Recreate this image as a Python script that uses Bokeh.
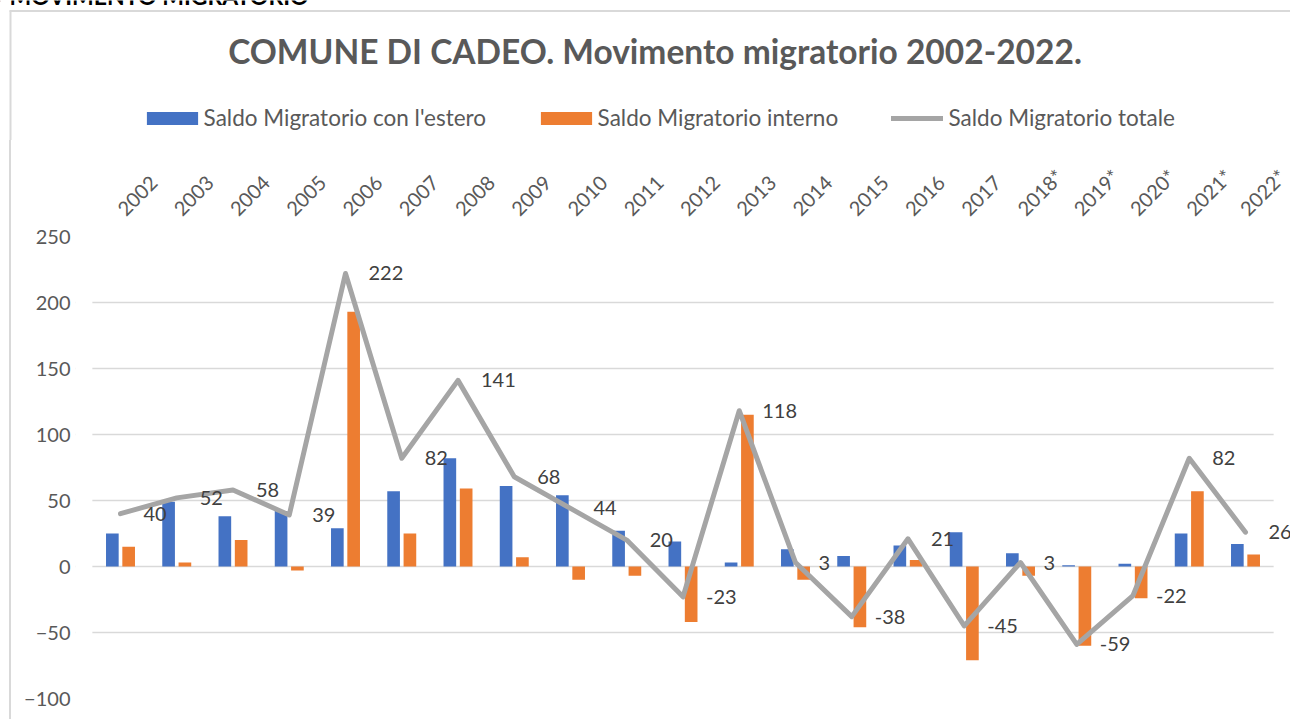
import math
from bokeh.plotting import figure
from bokeh.models import (FactorRange, Range1d, FixedTicker, ColumnDataSource,
                          Legend, LegendItem, Label, LabelSet, BoxAnnotation)
from bokeh.transform import dodge
from bokeh.core.properties import value
from bokeh.embed import file_html
from bokeh.resources import INLINE

# ---- data ----
years = ["2002", "2003", "2004", "2005", "2006", "2007", "2008", "2009", "2010",
         "2011", "2012", "2013", "2014", "2015", "2016", "2017",
         "2018*", "2019*", "2020*", "2021*", "2022*"]
estero = [25, 49, 38, 42, 29, 57, 82, 61, 54, 27, 19, 3, 13, 8, 16, 26, 10, 1, 2, 25, 17]
interno = [15, 3, 20, -3, 193, 25, 59, 7, -10, -7, -42, 115, -10, -46, 5, -71, -7, -60, -24, 57, 9]
totale = [40, 52, 58, 39, 222, 82, 141, 68, 44, 20, -23, 118, 3, -38, 21, -45, 3, -59, -22, 82, 26]
y_ticks = [-100, -50, 0, 50, 100, 150, 200, 250]

page_header = "MOVIMENTO MIGRATORIO"
title_text = "COMUNE DI CADEO. Movimento migratorio 2002-2022."
series_names = ["Saldo Migratorio con l'estero", "Saldo Migratorio interno", "Saldo Migratorio totale"]

BLUE = "#4472C4"
ORANGE = "#ED7D31"
GREY = "#A5A5A5"
TXT = "#595959"
BORDER = "#d9d9d9"
FONT = "Lato"
W = 1290
H_TOP = 140

# ================= header figure (title + legend) =================
hdr = figure(width=W, height=H_TOP, x_range=Range1d(0, W), y_range=Range1d(H_TOP, 0),
             min_border=0, x_axis_location=None, y_axis_location=None,
             toolbar_location=None, output_backend="svg")
hdr.outline_line_color = None
hdr.grid.visible = False
hdr.background_fill_color = "white"
hdr.border_fill_color = "white"

# chart box border (top + left)
hdr.segment(x0=[9, 10], y0=[10.5, 10], x1=[W, 10], y1=[10.5, H_TOP],
            line_color=BORDER, line_width=2)

hdr.add_layout(Label(x=9, y=-5, text=page_header, text_align="left",
                     text_baseline="alphabetic", text_font=FONT, text_font_style="bold",
                     text_font_size="23px", text_color="black"))
hdr.add_layout(Label(x=654.5, y=50.5, text=title_text, text_align="center",
                     text_baseline="alphabetic", text_font=FONT, text_font_style="bold",
                     text_font_size="33.5px", text_color=TXT))

# legend proxies (kept outside the visible area of the header)
h_blue = hdr.vbar(x=[-1000], top=[1], width=1, fill_color=BLUE, line_color=None)
h_orange = hdr.vbar(x=[-1000], top=[1], width=1, fill_color=ORANGE, line_color=None)
h_line = hdr.line(x=[-1000, -999], y=[1, 1], line_color=GREY, line_width=5, line_cap="round")


def mk_legend(name, rend, loc, gw, standoff):
    lg = Legend(items=[LegendItem(label=name, renderers=[rend])], location=loc,
                orientation="horizontal", glyph_width=gw, glyph_height=16,
                label_height=26, label_standoff=standoff, padding=0, margin=0, spacing=0,
                border_line_color=None, background_fill_alpha=0,
                label_text_font=FONT, label_text_font_size="22.5px", label_text_color=TXT)
    hdr.add_layout(lg, "center")


mk_legend(series_names[0], h_blue, (139.6, 9), 64, 0)
mk_legend(series_names[1], h_orange, (533.6, 9), 64, 0)
mk_legend(series_names[2], h_line, (890.5, 9), 52, 6)

# ================= main chart =================
src = ColumnDataSource(dict(year=years, estero=estero, interno=interno,
                            totale=totale, lab=[str(v) for v in totale]))

p = figure(x_range=FactorRange(*years, range_padding=0.3, range_padding_units="absolute"),
           y_range=Range1d(-100, 250),
           width=W, height=719 - H_TOP, output_backend="svg", toolbar_location=None,
           x_axis_location="above",
           min_border_left=75, min_border_right=0, min_border_top=96, min_border_bottom=21)
p.styles = {"background": "linear-gradient(to right, #ffffff 0px, #ffffff 9px, "
                          "#d9d9d9 9px, #d9d9d9 11px, #ffffff 11px)"}
p.outline_line_color = None
p.background_fill_color = "white"
p.border_fill_color = None

# grid
p.xgrid.grid_line_color = None
p.ygrid.grid_line_color = BORDER
p.ygrid.grid_line_width = 1.5
# hide grid parts outside the category area (Excel plot area)
p.add_layout(BoxAnnotation(left=21, level="underlay", fill_color="white", fill_alpha=1,
                           line_color=None))
p.add_layout(BoxAnnotation(right=0, level="underlay", fill_color="white", fill_alpha=1,
                           line_color=None))

# y axis
p.yaxis.ticker = FixedTicker(ticks=y_ticks)
p.yaxis.axis_line_color = None
p.yaxis.major_tick_line_color = None
p.yaxis.minor_tick_line_color = None
p.yaxis.major_tick_out = 0
p.yaxis.major_tick_in = 0
p.yaxis.major_label_standoff = 5
p.yaxis.major_label_text_font = FONT
p.yaxis.major_label_text_font_size = "20px"
p.yaxis.major_label_text_color = TXT

# x axis (above)
p.xaxis.axis_line_color = None
p.xaxis.major_tick_line_color = None
p.xaxis.minor_tick_line_color = None
p.xaxis.major_tick_out = 0
p.xaxis.major_tick_in = 0
p.xaxis.major_label_orientation = math.pi / 4
p.xaxis.major_label_standoff = 25
p.xaxis.major_label_text_font = FONT
p.xaxis.major_label_text_font_size = "20px"
p.xaxis.major_label_text_color = TXT

p.vbar(x=dodge("year", -0.145, range=p.x_range), top="estero", width=0.225,
       source=src, fill_color=BLUE, line_color=None)
p.vbar(x=dodge("year", 0.145, range=p.x_range), top="interno", width=0.225,
       source=src, fill_color=ORANGE, line_color=None)
p.line(x="year", y="totale", source=src, line_color=GREY, line_width=5,
       line_join="round", line_cap="round")

labels = LabelSet(x="year", y="totale", text="lab", source=src, x_offset=23,
                  text_align="left", text_baseline="middle", text_font=value(FONT),
                  text_font_size=value("20px"), text_color=value("#404040"))
p.add_layout(labels)

open("out.html", "w").write(file_html([hdr, p], INLINE))
